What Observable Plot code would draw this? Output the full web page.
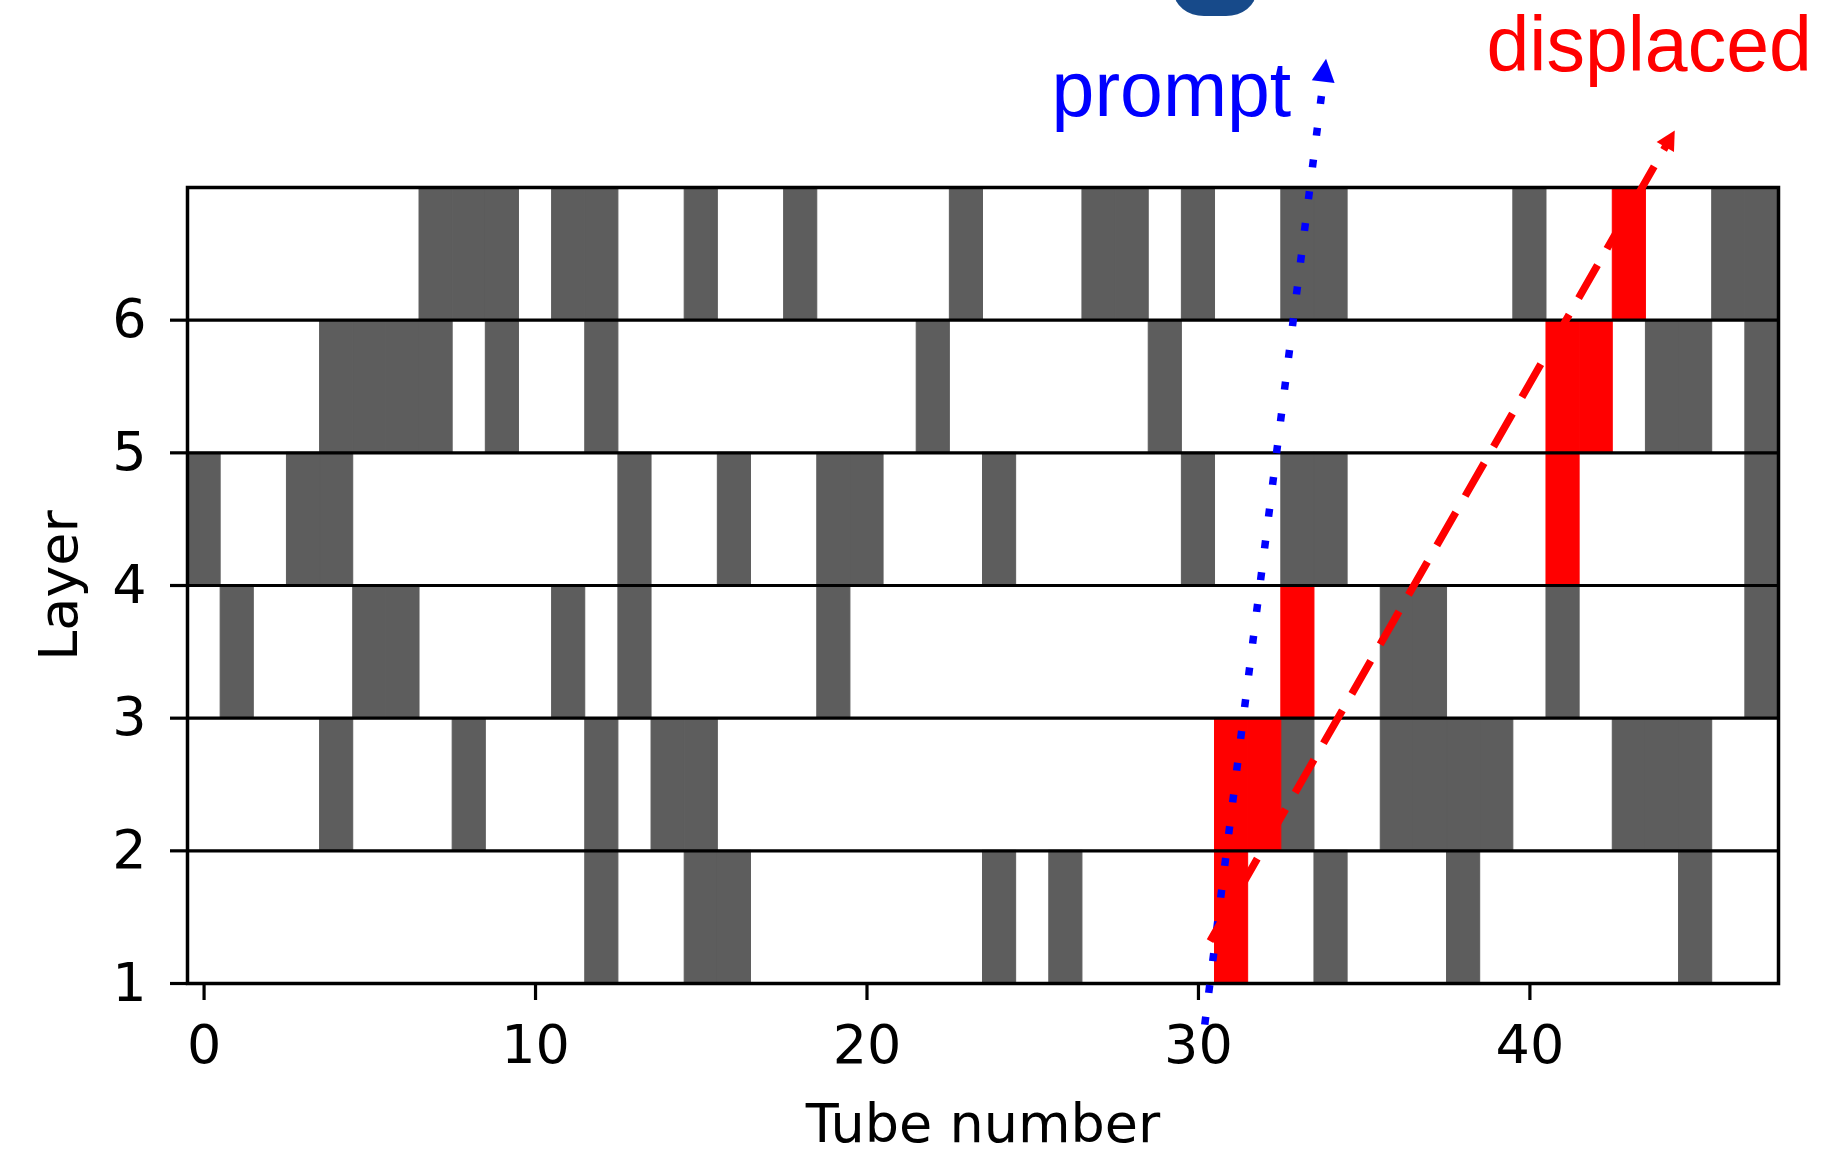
<!DOCTYPE html>
<html>
<head>
<meta charset="utf-8">
<script src="https://cdn.jsdelivr.net/npm/d3@7"></script>
<script src="https://cdn.jsdelivr.net/npm/@observablehq/plot@0.6"></script>
<style>
  body { margin: 0; background: #fff; }
  #wrap { position: relative; width: 1834px; height: 1153px; overflow: hidden; background: #fff; }
  #chart { position: absolute; left: 0; top: 0; }
  #blob { position: absolute; left: 1174px; top: -44px; width: 82px; height: 60px; background: #174a8a;
          border-radius: 0 0 30px 30px / 0 0 24px 24px; }
</style>
</head>
<body>
<div id="wrap"><div id="chart"></div><div id="blob"></div></div>
<script>
// ---- data: hit tubes per layer (grey background hits) ----
const layers = [1, 2, 3, 4, 5, 6];
const layer1Hits = [12, 15, 16, 24, 26, 34, 38, 45];
const layer2Hits = [4, 8, 12, 14, 15, 33, 36, 37, 38, 39, 43, 44, 45];
const layer3Hits = [1, 5, 6, 11, 13, 19, 36, 37, 41, 47];
const layer4Hits = [0, 3, 4, 13, 16, 19, 20, 24, 30, 33, 34, 47];
const layer5Hits = [4, 5, 6, 7, 9, 12, 22, 29, 44, 45, 47];
const layer6Hits = [7, 8, 9, 11, 12, 15, 18, 23, 27, 28, 30, 33, 34, 40, 46, 47];

// signal (red) hits
const signalTubes  = [31, 31, 32, 33, 41, 41, 42, 43];
const signalLayers = [1, 2, 2, 3, 4, 5, 5, 6];

// tracks (start point, arrow tip) in data units
const promptX = [30.19, 33.85];
const promptY = [0.69, 7.97];
const displacedX = [30.35, 44.37];
const displacedY = [1.32, 7.43];

// annotation labels
const labelTexts = ["prompt", "displaced"];
const labelX = [25.57, 38.69];
const labelY = [7.542, 7.876];
const labelColors = ["#0000ff", "#ff0000"];

const xTicks = [0, 10, 20, 30, 40];
const yTicks = [1, 2, 3, 4, 5, 6];
const gridLayers = [2, 3, 4, 5, 6];

// ---- build tables ----
const layerHits = [layer1Hits, layer2Hits, layer3Hits, layer4Hits, layer5Hits, layer6Hits];
const bgHits = [];
layerHits.forEach((arr, i) => arr.forEach(t => bgHits.push({tube: t, layer: layers[i]})));
const sigHits = signalTubes.map((t, i) => ({tube: t, layer: signalLayers[i]}));
const labels = labelTexts.map((t, i) => ({t, x: labelX[i], y: labelY[i]}));

const tri = {
  draw(context, l, r) {
    context.moveTo(0, -l);
    context.lineTo(r, 0);
    context.lineTo(-r, 0);
    context.closePath();
  }
};

const W = 1834, H = 1153;
const GREY = "#5d5d5d", RED = "#ff0000", BLUE = "#0000ff";

function build(tracks) {
  const marks = [
    Plot.rect(bgHits, {x1: d => d.tube - 0.5, x2: d => d.tube + 0.5, y1: d => d.layer, y2: d => d.layer + 1,
      fill: GREY, stroke: GREY, strokeWidth: 1}),
    Plot.rect(sigHits, {x1: d => d.tube - 0.5, x2: d => d.tube + 0.5, y1: d => d.layer, y2: d => d.layer + 1,
      fill: RED, stroke: RED, strokeWidth: 1}),
    Plot.ruleY(gridLayers, {stroke: "black", strokeWidth: 3.2}),
    Plot.frame({stroke: "black", strokeWidth: 3.5}),
    Plot.axisX({ticks: xTicks, tickSize: 17, tickPadding: 24, strokeWidth: 3.2, fontSize: 54,
      tickFormat: d => String(d),
      label: "Tube number", labelAnchor: "center", labelOffset: 158, labelArrow: "none"}),
    Plot.axisY({ticks: yTicks, tickSize: 17, tickPadding: 24, strokeWidth: 3.2, fontSize: 54,
      tickFormat: d => String(d),
      label: "Layer", labelAnchor: "center", labelOffset: 149, labelArrow: "none"})
  ];
  if (tracks) {
    marks.push(
      Plot.line(tracks.prompt.line, {x: "x", y: "y", stroke: BLUE, strokeWidth: 7.5, strokeDasharray: "8 24", strokeLinecap: "butt"}),
      Plot.line(tracks.displaced.line, {x: "x", y: "y", stroke: RED, strokeWidth: 7.5, strokeDasharray: "38 19", strokeLinecap: "butt"}),
      Plot.vector([tracks.prompt.head], {x: "x", y: "y", rotate: "angle", length: 23, r: 11.5, anchor: "end", shape: tri, fill: BLUE, stroke: "none"}),
      Plot.vector([tracks.displaced.head], {x: "x", y: "y", rotate: "angle", length: 19, r: 10, anchor: "end", shape: tri, fill: RED, stroke: "none"})
    );
  }
  marks.push(
    Plot.text(labels.slice(0, 1), {x: "x", y: "y", text: "t", fill: labelColors[0], fontSize: 77,
      fontFamily: "Liberation Sans, Arial, sans-serif", textAnchor: "start", lineAnchor: "bottom"}),
    Plot.text(labels.slice(1, 2), {x: "x", y: "y", text: "t", fill: labelColors[1], fontSize: 77,
      fontFamily: "Liberation Sans, Arial, sans-serif", textAnchor: "start", lineAnchor: "bottom"})
  );
  return Plot.plot({
    width: W, height: H,
    marginLeft: 187, marginRight: 56, marginTop: 187, marginBottom: 170,
    x: {domain: [-0.5, 47.5]},
    y: {domain: [1, 7]},
    style: {fontFamily: "DejaVu Sans", fontSize: "54px", background: "white", color: "black", overflow: "visible"},
    marks
  });
}

const first = build(null);
const sx = first.scale("x"), sy = first.scale("y");
function track(xs, ys, headLen) {
  const p0 = [sx.apply(xs[0]), sy.apply(ys[0])];
  const p1 = [sx.apply(xs[1]), sy.apply(ys[1])];
  const dx = p1[0] - p0[0], dy = p1[1] - p0[1];
  const len = Math.hypot(dx, dy);
  const f = (len - headLen + 2) / len;
  const bx = sx.invert(p0[0] + dx * f), by = sy.invert(p0[1] + dy * f);
  const angle = Math.atan2(dx, -dy) * 180 / Math.PI;
  return {
    line: [{x: xs[0], y: ys[0]}, {x: bx, y: by}],
    head: {x: xs[1], y: ys[1], angle}
  };
}
const tracks = {
  prompt: track(promptX, promptY, 23),
  displaced: track(displacedX, displacedY, 19)
};
document.getElementById("chart").appendChild(build(tracks));
</script>
</body>
</html>
